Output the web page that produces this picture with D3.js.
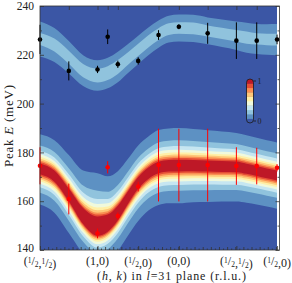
<!DOCTYPE html>
<html>
<head>
<meta charset="utf-8">
<script src="https://cdnjs.cloudflare.com/ajax/libs/d3/7.8.5/d3.min.js"></script>
<style>
  body { margin: 0; background: #fff; }
  svg { display: block; }
  text { font-family: "Liberation Serif", "DejaVu Serif", serif; fill: #222; }
</style>
</head>
<body>
<div id="chart"></div>
<script>
var svgWidth = 292;
var svgHeight = 283;

// path through (h,k): positions are cumulative path length (r.l.u.)
var tickPos = [0, 0.707, 1.207, 1.707, 2.414, 2.914];
var tickLabels = ["(1/2,1/2)", "(1,0)", "(1/2,0)", "(0,0)", "(1/2,1/2)", "(1/2,0)"];

// measured peaks
var qPoints = [0, 0.354, 0.707, 0.832, 0.957, 1.207, 1.457, 1.707, 2.061, 2.414, 2.664, 2.914];
var upperE = [226.3, 213.4, 214.0, 227.4, 216.1, 217.5, 228.1, 231.5, 228.8, 225.8, 225.8, 226.3];
var upperErr = [6.0, 3.9, 1.5, 3.0, 1.5, 1.5, 2.0, 1.0, 4.3, 7.5, 7.5, 2.0];
var lowerE = [174.5, 160.9, 146.8, 173.9, 153.9, 166.0, 174.8, 174.8, 174.8, 174.4, 174.4, 173.7];
var lowerErr = [7.6, 6.3, 2.0, 2.5, 1.5, 2.0, 14.9, 14.9, 14.9, 7.7, 7.5, 1.5];

// calculated intensity bands: centre, peak height, half widths (meV)
var bandQ = [0, 0.177, 0.354, 0.530, 0.707, 0.832, 0.957, 1.082, 1.207, 1.332, 1.457,
  1.582, 1.707, 1.884, 2.061, 2.237, 2.414, 2.539, 2.664, 2.789, 2.914];
var upperCenter = [226.5, 224, 219, 213.5, 211.5, 212.5, 215, 218.5, 222, 225.5, 228.5,
  230.5, 231, 230.8, 229.8, 228.8, 227.8, 227, 226.5, 226.3, 226.2];
var upperAmp = [0.23, 0.24, 0.25, 0.26, 0.27, 0.27, 0.27, 0.26, 0.26, 0.26, 0.26,
  0.26, 0.26, 0.26, 0.25, 0.25, 0.25, 0.25, 0.24, 0.24, 0.24];
var upperGam = [6.3, 5.9, 5.4, 5.0, 4.8, 4.8, 4.8, 4.7, 4.6, 4.5, 4.4,
  4.35, 4.35, 4.4, 4.5, 4.6, 4.75, 5.0, 5.2, 5.3, 5.4];
var lowerCenter = [173.3, 170.3, 162.5, 153.5, 149, 150.5, 155, 161.5, 167.5, 171.5, 173.8,
  174.5, 174.6, 174.6, 174.4, 174.2, 174.1, 173.3, 172.4, 171.4, 170.5];
var lowerAmp = [1.12, 1.12, 1.15, 1.3, 1.45, 1.38, 1.25, 1.15, 1.12, 1.12, 1.12,
  1.12, 1.12, 1.12, 1.12, 1.12, 1.12, 1.1, 1.1, 1.1, 1.1];
var lowerGamUp = [4.42, 4.6, 5.06, 5.5, 6.1, 5.5, 5.1, 4.9, 4.8, 4.7, 4.8,
  4.8, 4.83, 4.7, 4.6, 4.5, 4.35, 4.35, 4.3, 4.3, 4.3];
var lowerGamDown = [4.6, 4.7, 4.8, 4.3, 4.1, 4.2, 4.5, 4.8, 4.9, 4.8, 4.8,
  4.8, 4.83, 4.7, 4.6, 4.5, 4.45, 4.4, 4.35, 4.3, 4.3];

var levels = [0.1, 0.2, 0.3, 0.4, 0.5, 0.6, 0.7, 0.8, 0.9];
var yTicks = [140, 160, 180, 200, 220, 240];
var yMinor = [150, 170, 190, 210, 230];

var palette = ["#313695", "#4575b4", "#74add1", "#abd9e9", "#e0f3f8", "#ffffbf",
  "#fee090", "#fdae61", "#f46d43", "#d73027", "#a50026"];

var plot = { left: 40, right: 279.5, top: 6, bottom: 250 };

var x = d3.scaleLinear().domain([0, 2.944]).range([plot.left, plot.right]);
var y = d3.scaleLinear().domain([140, 240]).range([plot.bottom, plot.top]);
var cmap = d3.scaleLinear().domain(d3.range(11).map(i => i / 10)).range(palette);

var svg = d3.select("#chart").append("svg")
  .attr("width", svgWidth)
  .attr("height", svgHeight);

svg.append("rect").attr("width", svgWidth).attr("height", svgHeight).attr("fill", "#fff");

var defs = svg.append("defs");
defs.append("clipPath").attr("id", "clipMap")
  .append("rect")
  .attr("x", x(0)).attr("y", plot.top)
  .attr("width", x(2.914) - x(0)).attr("height", plot.bottom - plot.top);

var mapG = svg.append("g").attr("clip-path", "url(#clipMap)");

mapG.append("rect")
  .attr("x", x(0)).attr("y", plot.top)
  .attr("width", x(2.914) - x(0)).attr("height", plot.bottom - plot.top)
  .attr("fill", cmap(0.05));

// lorentzian line shape: distance from centre where intensity falls to t
function spread(a, t) {
  return a > t ? Math.sqrt(a / t - 1) : 0;
}

function drawBand(center, amp, gamUp, gamDown) {
  var rows = bandQ.map((q, i) => ({ q: q, c: center[i], a: amp[i], gu: gamUp[i], gd: gamDown[i] }));
  levels.forEach(t => {
    if (d3.max(rows, d => d.a) <= t) return;
    var area = d3.area()
      .x(d => x(d.q))
      .y0(d => y(d.c - d.gd * spread(d.a, t)))
      .y1(d => y(d.c + d.gu * spread(d.a, t)))
      .curve(d3.curveMonotoneX);
    mapG.append("path")
      .attr("d", area(rows))
      .attr("fill", cmap(t + 0.05));
  });
}

drawBand(upperCenter, upperAmp, upperGam, upperGam);
drawBand(lowerCenter, lowerAmp, lowerGamUp, lowerGamDown);

// error bars and points
function drawPoints(vals, errs, color) {
  var g = svg.append("g");
  g.selectAll("line")
    .data(qPoints)
    .enter()
    .append("line")
    .attr("x1", d => x(d)).attr("x2", d => x(d))
    .attr("y1", (d, i) => y(vals[i] - errs[i]))
    .attr("y2", (d, i) => y(vals[i] + errs[i]))
    .attr("stroke", color)
    .attr("stroke-width", 1);
  g.selectAll("circle")
    .data(qPoints)
    .enter()
    .append("circle")
    .attr("cx", d => x(d))
    .attr("cy", (d, i) => y(vals[i]))
    .attr("r", 2.3)
    .attr("fill", color);
}

drawPoints(upperE, upperErr, "#000");
drawPoints(lowerE, lowerErr, "#ff0000");

// axes
var axisColor = "#333";

var yAxis = svg.append("g")
  .attr("transform", `translate(${plot.left},0)`)
  .call(d3.axisLeft(y).tickValues(yTicks).tickSizeInner(-4).tickSizeOuter(0).tickPadding(6));
svg.append("g")
  .attr("transform", `translate(${plot.left},0)`)
  .call(d3.axisLeft(y).tickValues(yMinor).tickSizeInner(-2).tickSizeOuter(0).tickFormat(""));
svg.append("g")
  .attr("transform", `translate(${plot.right},0)`)
  .call(d3.axisRight(y).tickValues(yTicks).tickSizeInner(-4).tickSizeOuter(0).tickFormat(""));
svg.append("g")
  .attr("transform", `translate(${plot.right},0)`)
  .call(d3.axisRight(y).tickValues(yMinor).tickSizeInner(-2).tickSizeOuter(0).tickFormat(""));

var topTicks = qPoints.filter(q => q > 0.01 && q < 2.9 && Math.abs(q - 1.207) > 0.01);
svg.append("g")
  .attr("transform", `translate(0,${plot.top})`)
  .call(d3.axisTop(x).tickValues(topTicks).tickSizeInner(-4).tickSizeOuter(0).tickFormat(""));

var minorQ = d3.range(1, 59).map(i => i * 0.05);
svg.append("g")
  .attr("transform", `translate(0,${plot.bottom})`)
  .call(d3.axisBottom(x).tickValues(minorQ.filter((q, i) => i % 2 === 0)).tickSizeInner(-1.5).tickSizeOuter(0).tickFormat(""));
svg.append("g")
  .attr("transform", `translate(0,${plot.bottom})`)
  .call(d3.axisBottom(x).tickValues(minorQ.filter((q, i) => i % 2 === 1)).tickSizeInner(-3).tickSizeOuter(0).tickFormat(""));
svg.append("g")
  .attr("transform", `translate(0,${plot.bottom})`)
  .call(d3.axisBottom(x).tickValues(tickPos).tickSizeInner(-4).tickSizeOuter(0).tickFormat(""));

svg.selectAll(".domain").remove();
svg.selectAll(".tick line").attr("stroke", axisColor).attr("stroke-width", 0.8);
yAxis.selectAll("text").attr("font-size", 11.5).attr("fill", "#222")
  .attr("font-family", "Liberation Serif, serif");
// lowest label sits just above the fraction labels
yAxis.selectAll("text").filter(d => d === 140).attr("dy", "0.15em");

svg.append("rect")
  .attr("x", plot.left).attr("y", plot.top)
  .attr("width", plot.right - plot.left).attr("height", plot.bottom - plot.top)
  .attr("fill", "none")
  .attr("stroke", axisColor)
  .attr("stroke-width", 0.8);

// fraction style tick labels
tickLabels.forEach((lab, i) => {
  var t = svg.append("text")
    .attr("x", x(tickPos[i]))
    .attr("y", 265)
    .attr("text-anchor", "middle")
    .attr("font-size", 12);
  var parts = lab.split(/(1\/2)/).filter(p => p.length);
  parts.forEach(p => {
    if (p === "1/2") {
      t.append("tspan").attr("font-size", 7.5).attr("dy", -2.5).text("1");
      t.append("tspan").attr("dy", 2.5).text("/");
      t.append("tspan").attr("font-size", 7.5).attr("dy", 1.5).text("2");
      t.append("tspan").attr("dy", -1.5).text("");
    } else {
      t.append("tspan").text(p);
    }
  });
});

var xl = svg.append("text")
  .attr("x", 171.5)
  .attr("y", 279.5)
  .attr("text-anchor", "middle")
  .attr("font-size", 12)
  .attr("textLength", 149)
  .attr("lengthAdjust", "spacing");
xl.append("tspan").text("(");
xl.append("tspan").attr("font-style", "italic").text("h");
xl.append("tspan").text(", ");
xl.append("tspan").attr("font-style", "italic").text("k");
xl.append("tspan").text(") in ");
xl.append("tspan").attr("font-style", "italic").text("l");
xl.append("tspan").text("=31 plane (r.l.u.)");

var yl = svg.append("text")
  .attr("transform", `translate(13,126) rotate(-90)`)
  .attr("text-anchor", "middle")
  .attr("font-size", 13)
  .attr("textLength", 82)
  .attr("lengthAdjust", "spacing");
yl.append("tspan").text("Peak ");
yl.append("tspan").attr("font-style", "italic").text("E");
yl.append("tspan").text(" (meV)");

// colour bar
var cb = { x: 246.5, y: 79, w: 7, h: 44 };
defs.append("clipPath").attr("id", "clipBar")
  .append("rect")
  .attr("x", cb.x).attr("y", cb.y).attr("width", cb.w).attr("height", cb.h)
  .attr("rx", cb.w / 2);
var cbY = d3.scaleLinear().domain([0, 1]).range([cb.y + cb.h, cb.y]);
var bins = d3.range(10).map(i => i / 10);
var cbG = svg.append("g").attr("clip-path", "url(#clipBar)");
cbG.selectAll("rect")
  .data(bins)
  .enter()
  .append("rect")
  .attr("x", cb.x)
  .attr("y", d => cbY(d + 0.1))
  .attr("width", cb.w)
  .attr("height", d => cbY(d) - cbY(d + 0.1) + 0.3)
  .attr("fill", d => cmap(d + 0.05));
svg.append("rect")
  .attr("x", cb.x).attr("y", cb.y).attr("width", cb.w).attr("height", cb.h)
  .attr("rx", cb.w / 2)
  .attr("fill", "none")
  .attr("stroke", "#1a1a1a")
  .attr("stroke-width", 0.8);
[0, 1].forEach(v => {
  var yy = v === 1 ? cb.y + 2 : cb.y + cb.h - 2;
  svg.append("line")
    .attr("x1", cb.x + cb.w).attr("x2", cb.x + cb.w + 2.5)
    .attr("y1", yy).attr("y2", yy)
    .attr("stroke", "#1a1a1a").attr("stroke-width", 0.8);
  svg.append("text")
    .attr("x", cb.x + cb.w + 4)
    .attr("y", yy + 3)
    .attr("font-size", 8)
    .attr("fill", "#eee")
    .text(v);
});
</script>
</body>
</html>
